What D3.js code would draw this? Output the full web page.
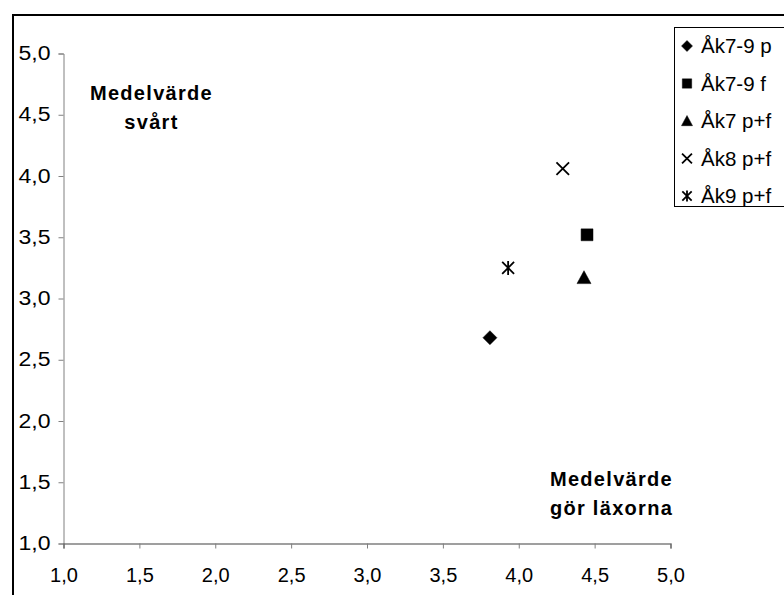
<!DOCTYPE html>
<html>
<head>
<meta charset="utf-8">
<script src="https://cdn.jsdelivr.net/npm/d3@7"></script>
<style>
  html, body { margin: 0; padding: 0; background: #fff; }
  svg { display: block; font-family: "Liberation Sans", Arial, sans-serif; }
</style>
</head>
<body>
<svg id="chart" width="784" height="595"></svg>
<script>
// Series names (legend order) and their mean values
const seriesNames = ["Åk7-9 p", "Åk7-9 f", "Åk7 p+f", "Åk8 p+f", "Åk9 p+f"];
const xValues = [3.81, 4.45, 4.43, 4.29, 3.93];   // Medelvärde gör läxorna
const yValues = [2.68, 3.52, 3.17, 4.06, 3.25];   // Medelvärde svårt
const markerKinds = ["diamond", "square", "triangle", "x", "asterisk"];
const tickValues = [1.0, 1.5, 2.0, 2.5, 3.0, 3.5, 4.0, 4.5, 5.0];

const svg = d3.select("#chart");
const FONT = "Liberation Sans, Arial, sans-serif";

// Chart frame
svg.append("rect")
  .attr("x", 13).attr("y", 15)
  .attr("width", 800).attr("height", 600)
  .attr("fill", "#fff").attr("stroke", "#000").attr("stroke-width", 2);

const x = d3.scaleLinear().domain([1, 5]).range([63.5, 670.5]);
const y = d3.scaleLinear().domain([1, 5]).range([543.5, 53.5]);
const fmt = d => d3.format(".1f")(d).replace(".", ",");

// Y axis
const yAxis = svg.append("g")
  .attr("transform", `translate(${x(1)},0)`)
  .call(d3.axisLeft(y).tickValues(tickValues).tickFormat(fmt).tickSize(5).tickPadding(8));
yAxis.select(".domain").attr("stroke", "#808080").attr("stroke-width", 1);
yAxis.selectAll(".tick line").attr("stroke", "#808080");
yAxis.selectAll(".tick text")
  .attr("font-size", 19.5).attr("fill", "#000").attr("font-family", FONT)
  .attr("x", 0).attr("transform", "translate(-13,0) scale(1.18,1)");

// X axis
const xAxis = svg.append("g")
  .attr("transform", `translate(0,${y(1)})`)
  .call(d3.axisBottom(x).tickValues(tickValues).tickFormat(fmt).tickSize(5).tickPadding(19));
xAxis.select(".domain").attr("stroke", "#404040").attr("stroke-width", 1.2);
xAxis.selectAll(".tick line").attr("stroke", "#808080");
xAxis.selectAll(".tick text").attr("font-size", 20).attr("fill", "#000").attr("font-family", FONT);

// Marker path builders
function markerPath(kind, s) {
  const h = s / 2;
  switch (kind) {
    case "diamond": return `M0,${-h}L${h},0L0,${h}L${-h},0Z`;
    case "square": { const q = h * 0.85; return `M${-q},${-q}H${q}V${q}H${-q}Z`; }
    case "triangle": return `M0,${-h}L${h},${h * 0.85}L${-h},${h * 0.85}Z`;
    case "x": { const q = h * 0.9; return `M${-q},${-q}L${q},${q}M${q},${-q}L${-q},${q}`; }
    case "asterisk": { const q = h * 0.85; return `M${-q},${-q}L${q},${q}M${q},${-q}L${-q},${q}M0,${-h}V${h}`; }
  }
}
function drawMarker(g, kind, s) {
  const filled = kind === "diamond" || kind === "square" || kind === "triangle";
  g.append("path")
    .attr("d", markerPath(kind, s))
    .attr("fill", filled ? "#000" : "none")
    .attr("stroke", "#000")
    .attr("stroke-width", filled ? 0.5 : 1.8);
}

// Data points
seriesNames.forEach((name, i) => {
  const g = svg.append("g").attr("transform", `translate(${x(xValues[i])},${y(yValues[i])})`);
  drawMarker(g, markerKinds[i], 14);
});

// Annotations
function boldLabel(cx, cy, lines) {
  const t = svg.append("text")
    .attr("text-anchor", "middle")
    .attr("font-size", 20).attr("font-weight", "bold")
    .attr("letter-spacing", 1.3)
    .attr("fill", "#000");
  lines.forEach((ln, k) => {
    t.append("tspan").attr("x", cx).attr("y", cy + k * 29).text(ln);
  });
}
boldLabel(151.5, 100, ["Medelvärde", "svårt"]);
boldLabel(611.5, 486, ["Medelvärde", "gör läxorna"]);

// Legend
const legend = svg.append("g");
legend.append("rect")
  .attr("x", 674.5).attr("y", 27.5).attr("width", 120).attr("height", 179)
  .attr("fill", "#fff").attr("stroke", "#000").attr("stroke-width", 1);
seriesNames.forEach((name, i) => {
  const cy = 46 + i * 37.5;
  const g = legend.append("g").attr("transform", `translate(687,${cy})`);
  drawMarker(g, markerKinds[i], 11);
  legend.append("text")
    .attr("x", 701).attr("y", cy + 7)
    .attr("font-size", 20.5).attr("fill", "#000")
    .text(name);
});
</script>
</body>
</html>
